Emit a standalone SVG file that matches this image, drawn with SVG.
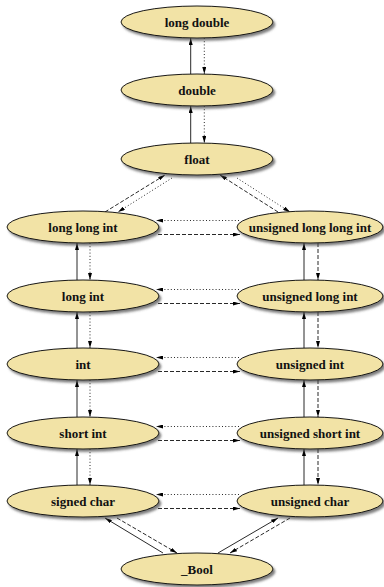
<svg xmlns="http://www.w3.org/2000/svg" width="384" height="587" viewBox="0 0 384 587">
<style>
.n ellipse{fill:#f2e3a6;stroke:#000;stroke-width:0.9;filter:url(#sh)}
.n text{font-family:"Liberation Serif",serif;font-weight:bold;font-size:13px;text-anchor:middle;fill:#111}
.e line{stroke:#111;stroke-width:0.9;fill:none}
.s{stroke:#333}
.dt{stroke-dasharray:1,2.2}
.ds{stroke-dasharray:4,2}
</style>
<defs>
<filter id="sh" x="-10%" y="-30%" width="125%" height="170%">
<feDropShadow dx="2" dy="2.5" stdDeviation="1" flood-color="#444" flood-opacity="0.7"/>
</filter>
<marker id="a" viewBox="0 0 7 4" refX="7" refY="2" markerWidth="7" markerHeight="4" markerUnits="userSpaceOnUse" orient="auto">
<path d="M0,0 L7,2 L0,4 z" fill="#000"/>
</marker>
</defs>
<g id="connectors" class="e">
<!-- center column -->
<line class="s" x1="190.7" y1="74" x2="190.7" y2="38" marker-end="url(#a)"/>
<line class="dt" x1="204.3" y1="38" x2="204.3" y2="74" marker-end="url(#a)"/>
<line class="s" x1="190.7" y1="143" x2="190.7" y2="106" marker-end="url(#a)"/>
<line class="dt" x1="204.3" y1="106" x2="204.3" y2="143" marker-end="url(#a)"/>
<!-- float diagonals -->
<line class="ds" x1="105" y1="212" x2="165" y2="175" marker-end="url(#a)"/>
<line class="dt" x1="172" y1="178" x2="118" y2="212" marker-end="url(#a)"/>
<line class="ds" x1="278" y1="212" x2="220" y2="175" marker-end="url(#a)"/>
<line class="dt" x1="237" y1="178" x2="290" y2="212" marker-end="url(#a)"/>
<!-- left column -->
<line class="s" x1="77" y1="280" x2="77" y2="243" marker-end="url(#a)"/>
<line class="dt" x1="90" y1="243" x2="90" y2="280" marker-end="url(#a)"/>
<line class="s" x1="77" y1="348" x2="77" y2="312" marker-end="url(#a)"/>
<line class="dt" x1="90" y1="312" x2="90" y2="348" marker-end="url(#a)"/>
<line class="s" x1="77" y1="417" x2="77" y2="380" marker-end="url(#a)"/>
<line class="dt" x1="90" y1="380" x2="90" y2="417" marker-end="url(#a)"/>
<line class="s" x1="77" y1="485" x2="77" y2="449" marker-end="url(#a)"/>
<line class="dt" x1="90" y1="449" x2="90" y2="485" marker-end="url(#a)"/>
<!-- right column -->
<line class="s" x1="304" y1="280" x2="304" y2="243" marker-end="url(#a)"/>
<line class="ds" x1="318" y1="243" x2="318" y2="280" marker-end="url(#a)"/>
<line class="s" x1="304" y1="348" x2="304" y2="312" marker-end="url(#a)"/>
<line class="ds" x1="318" y1="312" x2="318" y2="348" marker-end="url(#a)"/>
<line class="s" x1="304" y1="417" x2="304" y2="380" marker-end="url(#a)"/>
<line class="ds" x1="318" y1="380" x2="318" y2="417" marker-end="url(#a)"/>
<line class="s" x1="304" y1="485" x2="304" y2="449" marker-end="url(#a)"/>
<line class="ds" x1="318" y1="449" x2="318" y2="485" marker-end="url(#a)"/>
<!-- horizontals -->
<line class="dt" x1="239" y1="220.5" x2="156" y2="220.5" marker-end="url(#a)"/>
<line class="ds" x1="158" y1="234.5" x2="240" y2="234.5" marker-end="url(#a)"/>
<line class="dt" x1="239" y1="289.5" x2="156" y2="289.5" marker-end="url(#a)"/>
<line class="ds" x1="158" y1="303.5" x2="240" y2="303.5" marker-end="url(#a)"/>
<line class="dt" x1="239" y1="357.5" x2="156" y2="357.5" marker-end="url(#a)"/>
<line class="ds" x1="158" y1="371.5" x2="240" y2="371.5" marker-end="url(#a)"/>
<line class="dt" x1="239" y1="426.5" x2="156" y2="426.5" marker-end="url(#a)"/>
<line class="ds" x1="158" y1="440.5" x2="240" y2="440.5" marker-end="url(#a)"/>
<line class="dt" x1="239" y1="494.5" x2="156" y2="494.5" marker-end="url(#a)"/>
<line class="ds" x1="158" y1="508.5" x2="240" y2="508.5" marker-end="url(#a)"/>
<!-- bool diagonals -->
<line class="s" x1="163" y1="553" x2="105" y2="518" marker-end="url(#a)"/>
<line class="ds" x1="117" y1="518" x2="177" y2="553" marker-end="url(#a)"/>
<line class="s" x1="218" y1="553" x2="278" y2="518" marker-end="url(#a)"/>
<line class="ds" x1="290" y1="518" x2="230" y2="553" marker-end="url(#a)"/>
</g>
<g id="long-double" class="n"><ellipse cx="197" cy="22" rx="76" ry="16"/><text x="197" y="26.5">long double</text></g>
<g id="double" class="n"><ellipse cx="197" cy="90" rx="76" ry="16"/><text x="197" y="94.5">double</text></g>
<g id="float" class="n"><ellipse cx="197" cy="159" rx="76" ry="16"/><text x="197" y="163.5">float</text></g>
<g id="long-long-int" class="n"><ellipse cx="83" cy="227" rx="76" ry="16"/><text x="83" y="231.5">long long int</text></g>
<g id="unsigned-long-long-int" class="n"><ellipse cx="310" cy="227" rx="73" ry="16"/><text x="310" y="231.5">unsigned long long int</text></g>
<g id="long-int" class="n"><ellipse cx="83" cy="296" rx="76" ry="16"/><text x="83" y="300.5">long int</text></g>
<g id="unsigned-long-int" class="n"><ellipse cx="310" cy="296" rx="73" ry="16"/><text x="310" y="300.5">unsigned long int</text></g>
<g id="int" class="n"><ellipse cx="83" cy="364" rx="76" ry="16"/><text x="83" y="368.5">int</text></g>
<g id="unsigned-int" class="n"><ellipse cx="310" cy="364" rx="73" ry="16"/><text x="310" y="368.5">unsigned int</text></g>
<g id="short-int" class="n"><ellipse cx="83" cy="433" rx="76" ry="16"/><text x="83" y="437.5">short int</text></g>
<g id="unsigned-short-int" class="n"><ellipse cx="310" cy="433" rx="73" ry="16"/><text x="310" y="437.5">unsigned short int</text></g>
<g id="signed-char" class="n"><ellipse cx="83" cy="501" rx="76" ry="16"/><text x="83" y="505.5">signed char</text></g>
<g id="unsigned-char" class="n"><ellipse cx="310" cy="501" rx="73" ry="16"/><text x="310" y="505.5">unsigned char</text></g>
<g id="bool" class="n"><ellipse cx="197" cy="569" rx="76" ry="16"/><text x="197" y="573.5">_Bool</text></g>
</svg>
